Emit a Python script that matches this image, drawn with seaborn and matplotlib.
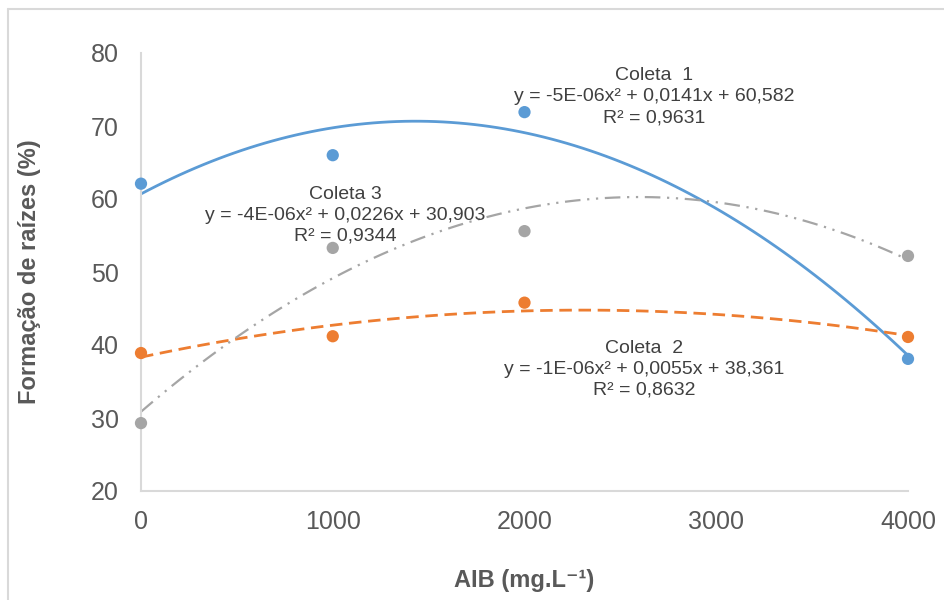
import numpy as np
import pandas as pd
import matplotlib
matplotlib.use("Agg")
import matplotlib.pyplot as plt
from matplotlib.lines import Line2D
import seaborn as sns

# AIB doses (mg/L) and rooting percentage for each collection
doses = [0, 1000, 2000, 4000]
coleta1 = [62.1, 66.0, 71.9, 38.1]
coleta2 = [38.9, 41.2, 45.8, 41.1]
coleta3 = [29.3, 53.3, 55.6, 52.2]

series_names = ["Coleta  1", "Coleta  2", "Coleta 3"]
equations = [
    "y = -5E-06x² + 0,0141x + 60,582",
    "y = -1E-06x² + 0,0055x + 38,361",
    "y = -4E-06x² + 0,0226x + 30,903",
]
r2_labels = ["R² = 0,9631", "R² = 0,8632", "R² = 0,9344"]

x_ticks = [0, 1000, 2000, 3000, 4000]
y_ticks = [20, 30, 40, 50, 60, 70, 80]

sns.set_theme(style="white")
plt.rcParams["font.family"] = ["Liberation Sans", "DejaVu Sans"]

fig = plt.figure(figsize=(9.44, 6.0), dpi=100)
ax = fig.add_axes([141 / 944, 1 - 491 / 600, (908 - 141) / 944, (491 - 53) / 600])

colors = ["#5B9BD5", "#ED7D31", "#A5A5A5"]
line_kws = [
    dict(lw=2.0, linestyle="-"),
    dict(lw=2.0, dashes=(4.5, 2.4)),
    dict(lw=1.6, dashes=(7, 3, 1, 3, 1, 3)),
]

df = pd.DataFrame({"dose": doses, "c1": coleta1, "c2": coleta2, "c3": coleta3})
for col, color, lk in zip(["c1", "c2", "c3"], colors, line_kws):
    # quadratic trendline through the observed points
    sns.regplot(data=df, x="dose", y=col, order=2, ci=None, ax=ax,
                scatter=False, line_kws=dict(color=color, **lk))
for col, color in zip(["c1", "c2", "c3"], colors):
    sns.scatterplot(data=df, x="dose", y=col, ax=ax, color=color, s=78,
                    edgecolor="none", zorder=5, clip_on=False)

ax.set_xlim(0, 4000)
ax.set_ylim(20, 80)
ax.set_xticks(x_ticks)
ax.set_yticks(y_ticks)
ax.tick_params(axis="both", length=0, labelsize=18, labelcolor="#595959")
ax.tick_params(axis="x", pad=14)
ax.tick_params(axis="y", pad=16)

for side in ["top", "right"]:
    ax.spines[side].set_visible(False)
for side in ["left", "bottom"]:
    ax.spines[side].set_color("#D9D9D9")
    ax.spines[side].set_linewidth(1.5)

ax.set_xlabel("AIB (mg.L⁻¹)", fontsize=17, fontweight="bold",
              color="#595959", labelpad=25)
ax.set_ylabel("Formação de raízes (%)", fontsize=17, fontweight="bold",
              color="#595959", labelpad=36)

# trendline equations
label_pos = [(2675, 74.0), (2623, 36.7), (1064, 57.8)]
for name, eq, r2, (lx, ly) in zip(series_names, equations, r2_labels, label_pos):
    ax.text(lx, ly, f"{name}\n{eq}\n{r2}", ha="center", va="center",
            fontsize=14, color="#404040", linespacing=1.3, zorder=4)

# chart frame
fig.add_artist(Line2D([8 / 944, 8 / 944], [0, 1 - 9 / 600], transform=fig.transFigure,
                      color="#D9D9D9", lw=1.5))
fig.add_artist(Line2D([8 / 944, 1], [1 - 9 / 600, 1 - 9 / 600], transform=fig.transFigure,
                      color="#D9D9D9", lw=1.5))

fig.savefig("out.png", dpi=100, facecolor="white")
